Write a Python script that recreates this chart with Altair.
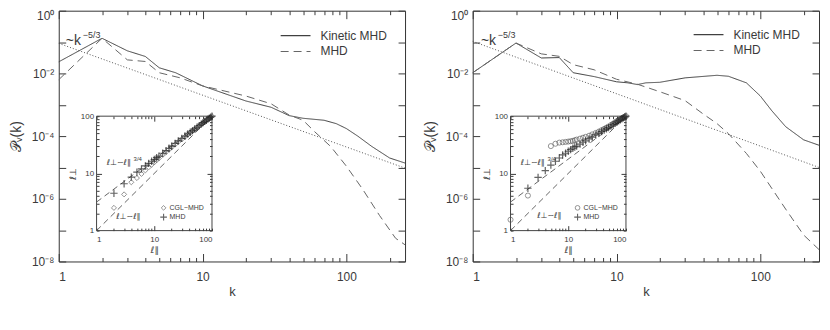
import altair as alt
import pandas as pd

W, H = 348, 252
FONT = "Liberation Sans"
SYMFONT = "DejaVu Sans"
INK = "#3a3a3a"
SER = ["Kinetic MHD", "MHD"]

# ---------------- left panel: spectra ----------------
L_SOLID_K = [1, 2, 3, 4, 5, 6.5, 10, 20, 30, 40, 50, 70, 85, 100, 120, 150, 200, 256]
L_SOLID_P = [0.0234, 0.132, 0.0525, 0.0347, 0.0151, 0.0105, 0.0040, 1.32e-3, 8.3e-4,
             4.5e-4, 3.7e-4, 3.2e-4, 2.5e-4, 1.74e-4, 1.0e-4, 4.7e-5, 2.0e-5, 1.38e-5]
L_DASH_K = [1, 2, 3, 4, 5, 7, 10, 20, 30, 40, 50, 60, 78, 100, 130, 170, 220, 256]
L_DASH_P = [0.0063, 0.132, 0.027, 0.024, 0.0105, 0.0072, 0.0040, 1.9e-3, 1.07e-3,
            4.7e-4, 3.2e-4, 1.4e-4, 4.6e-5, 1.1e-5, 2.0e-6, 2.95e-7, 5.5e-8, 3.4e-8]
L_DOT_K = [1, 256]
L_DOT_P = [0.091, 9.5e-6]

# ---------------- right panel: spectra ----------------
R_SOLID_K = [1, 2, 3, 4, 5, 7, 10, 12, 14, 16, 20, 30, 50, 60, 80, 100, 120, 150, 200, 256]
R_SOLID_P = [0.0105, 0.093, 0.031, 0.032, 0.0105, 0.0079, 0.0054, 0.0050, 0.0044, 0.0050,
             0.0052, 0.0072, 0.0087, 0.0081, 0.0050, 0.0019, 6.5e-4, 2.0e-4, 7.6e-5, 5.1e-5]
R_DASH_K = [1, 2, 3, 4, 5, 7, 10, 14, 20, 30, 40, 50, 60, 80, 100, 150, 200, 256]
R_DASH_P = [0.0105, 0.093, 0.042, 0.035, 0.019, 0.013, 0.0065, 0.0045, 0.0026, 0.00135,
            5.1e-4, 2.5e-4, 1.2e-4, 2.8e-5, 7.6e-6, 4.7e-7, 7.0e-8, 2.4e-8]
R_DOT_K = [1, 256]
R_DOT_P = [0.105, 1.0e-5]

# ---------------- insets: l_perp vs l_par ----------------
L_CGL_X = [2, 3, 4, 5, 6, 7, 8, 9, 10, 11, 12, 14, 16, 18, 20, 23, 26, 30, 34, 38, 42, 46,
           50, 55, 60, 65, 70, 75, 80, 85, 90, 95, 100]
L_CGL_Y = [2.5, 4.3, 7.0, 8.3, 9.8, 11.3, 12.8, 14.2, 15.6, 17, 18.3, 21, 23.5, 26, 28.5, 32,
           35.5, 39.5, 43.5, 47.5, 51.5, 55, 58.5, 63, 67, 71.5, 76, 80, 84, 88, 92, 96, 100]
L_MHD_X = [2, 3, 4, 5, 6, 7, 8, 9, 10, 11, 12, 14, 16, 18, 20, 23, 26, 30, 34, 38, 42, 46,
           50, 55, 60, 65, 70, 75, 80, 85, 90, 95, 100]
L_MHD_Y = [4.5, 6.6, 8.6, 10.5, 12, 13.5, 15, 16.3, 17.5, 18.8, 20, 22.5, 25, 27.5, 30, 33.5,
           37, 41, 45, 49, 52.5, 56, 60, 64, 68.5, 72.5, 77, 81, 85, 89, 92.5, 96, 100]

R_CGL_X = [1, 2, 5, 6, 7, 8, 9, 10, 11, 12, 13, 14, 16, 18, 20, 23, 26, 30, 34, 38, 42, 46,
           50, 55, 60, 65, 70, 75, 80, 85, 90, 95, 100]
R_CGL_Y = [1.55, 4.1, 30, 33, 34.5, 35, 35.5, 36, 36.5, 37, 38, 39, 40.5, 42, 43.5, 45.5, 48,
           51, 54, 57, 60, 63, 66, 70, 74, 78, 82, 85.5, 89, 92, 95, 97.5, 100]
R_MHD_X = [2, 3, 4, 5, 6, 7, 8, 9, 10, 11, 12, 13, 14, 16, 18, 20, 23, 26, 30, 34, 38, 42,
           46, 50, 55, 60, 65, 70, 75, 80, 85, 90, 95, 100]
R_MHD_Y = [5.5, 8.5, 11.2, 14, 16.3, 18.6, 21, 22.5, 24.4, 26, 27.5, 29, 30, 32.5, 35, 37, 40,
           43, 47, 50.5, 54, 57, 60, 63, 67, 71, 75, 79, 83, 86.5, 90, 93.5, 97, 100]

GUIDE_X = [1, 100, 1, 100]
GUIDE_Y = [1, 100, 3.16, 100]
GUIDE_ID = ["lin", "lin", "gs", "gs"]

XT = [1, 2, 3, 4, 5, 6, 7, 8, 9, 10, 20, 30, 40, 50, 60, 70, 80, 90, 100, 200]
YT = [1e-8, 1e-7, 1e-6, 1e-5, 1e-4, 1e-3, 1e-2, 1e-1, 1]
IT = [1, 2, 3, 4, 5, 6, 7, 8, 9, 10, 20, 30, 40, 50, 60, 70, 80, 90, 100]

MAJ_MAIN = {"condition": {"test": "datum.value == 1 || datum.value == 10 || datum.value == 100",
                          "value": 8}, "value": 4}
MAJ_IN = {"condition": {"test": "datum.value == 10", "value": 5}, "value": 2.5}

PLUS = "M-1,0L1,0M0,-1L0,1"
PAR = "ℓ∥"
PERP = "ℓ⊥"


def tick_axis(orient, offset, values, size):
    return alt.Axis(orient=orient, offset=offset, values=values, labels=False, tickSize=size,
                    tickColor=INK, tickWidth=1, domain=False, grid=False, title=None, zindex=1)


def panel(sk, sP, dk, dP, dotk, dotP, ak, aP, cx, cy, mx, my, cgl_shape, t34, t11, legpos):
    xs = alt.Scale(type="log", domain=[1, 256], nice=False)
    ys = alt.Scale(type="log", domain=[1e-8, 1], nice=False)

    ax_lab = alt.Axis(orient="bottom", values=[1, 10, 100], format="~g", tickSize=0,
                      labelPadding=10, labelFontSize=12, labelFont=FONT, labelColor=INK,
                      domain=False, grid=False, title="k", titleFont=FONT, titleFontSize=13,
                      titleFontWeight="normal", titleColor=INK, titlePadding=3)
    ay_lab = alt.Axis(orient="left", values=[1e-8, 1e-6, 1e-4, 1e-2, 1],
                      labelExpr="['10⁻⁸','','10⁻⁶','','10⁻⁴','','10⁻²','','10⁰'][round(log(datum.value)/LN10)+8]",
                      labelBaseline={"condition": {"test": "datum.value > 0.5", "value": "top"},
                                     "value": "middle"},
                      tickSize=0, labelPadding=5, labelFontSize=12, labelFont=FONT,
                      labelColor=INK, domain=False, grid=False, title="𝒫ᵥ(k)", titleFont=FONT,
                      titleFontSize=14, titleFontWeight="normal", titleColor=INK, titlePadding=8)

    lines_df = pd.DataFrame({"k": sk + dk, "P": sP + dP,
                             "series": [SER[0]] * len(sk) + [SER[1]] * len(dk)})
    leg = alt.Legend(orient="none", legendX=legpos[0], legendY=legpos[1], title=None,
                     symbolType="stroke", symbolSize=900, symbolStrokeWidth=1.1,
                     clipHeight=12, rowPadding=4, labelFont=FONT, labelFontSize=12,
                     labelColor=INK, labelOffset=9, padding=0)
    lines = alt.Chart(lines_df).mark_line(strokeWidth=1).encode(
        x=alt.X("k:Q", scale=xs, axis=ax_lab),
        y=alt.Y("P:Q", scale=ys, axis=ay_lab),
        color=alt.Color("series:N", scale=alt.Scale(domain=SER, range=["#404040", "#666666"]),
                        legend=leg),
        strokeDash=alt.StrokeDash("series:N", scale=alt.Scale(domain=SER, range=[[1, 0], [8, 5]]),
                                  legend=leg),
    )
    dotted = alt.Chart(pd.DataFrame({"k": dotk, "P": dotP})).mark_line(
        color="#555555", strokeWidth=1, strokeDash=[1, 2]).encode(
        x=alt.X("k:Q", scale=xs, axis=tick_axis("top", -H, XT, MAJ_MAIN)),
        y=alt.Y("P:Q", scale=ys, axis=tick_axis("right", -W, YT, 7)),
    )
    ann_df = pd.DataFrame({"k": [ak], "P": [aP]})
    ann1 = alt.Chart(ann_df).mark_text(text="~k", align="left", baseline="middle", font=FONT,
                                       fontSize=14, color=INK).encode(
        x=alt.X("k:Q", scale=xs, axis=tick_axis("bottom", -H, XT, MAJ_MAIN)),
        y=alt.Y("P:Q", scale=ys, axis=tick_axis("left", -W, YT, 7)),
    )
    ann2 = alt.Chart(ann_df).mark_text(text="−5/3", align="left", baseline="middle", dx=17,
                                       dy=-6, font=FONT, fontSize=9, color=INK).encode(
        x=alt.X("k:Q", scale=xs, axis=None),
        y=alt.Y("P:Q", scale=ys, axis=None),
    )
    main = alt.layer(lines, dotted, ann1, ann2).resolve_axis(x="independent", y="independent")

    # ---------- inset ----------
    xi = alt.Scale(type="log", domain=[1, 100], range=[38, 154], nice=False)
    yi = alt.Scale(type="log", domain=[1, 100], range=[221, 106], nice=False)
    axi_lab = alt.Axis(orient="bottom", offset=221 - H, values=[1, 10, 100], format="~g",
                       tickSize=0, labelPadding=5, labelFontSize=8, labelFont=FONT,
                       labelColor=INK, domain=False, grid=False, title=PAR, titleFont=SYMFONT,
                       titleFontSize=9, titleFontWeight="normal", titleColor=INK,
                       titlePadding=2, zindex=1)
    ayi_lab = alt.Axis(orient="left", offset=-38, values=[1, 10, 100], format="~g",
                       tickSize=0, labelPadding=3, labelFontSize=8, labelFont=FONT,
                       labelColor=INK, domain=False, grid=False, title=PERP, titleFont=SYMFONT,
                       titleFontSize=9, titleFontWeight="normal", titleColor=INK,
                       titlePadding=3, zindex=1)
    frame = alt.Chart(pd.DataFrame({"x": [1], "x2": [100], "y": [1], "y2": [100]})).mark_rect(
        fill="white", stroke="#444444", strokeWidth=1).encode(
        x=alt.X("x:Q", scale=xi, axis=axi_lab), x2="x2:Q",
        y=alt.Y("y:Q", scale=yi, axis=ayi_lab), y2="y2:Q",
    )
    guides = alt.Chart(pd.DataFrame({"x": GUIDE_X, "y": GUIDE_Y, "g": GUIDE_ID})).mark_line(
        color="#666666", strokeWidth=1, strokeDash=[6, 4]).encode(
        x=alt.X("x:Q", scale=xi, axis=tick_axis("top", -221, IT, MAJ_IN)),
        y=alt.Y("y:Q", scale=yi, axis=tick_axis("right", 38 - W, IT, MAJ_IN)),
        detail="g:N",
    )
    cgl = alt.Chart(pd.DataFrame({"x": cx, "y": cy})).mark_point(
        shape=cgl_shape, filled=False, size=26, color="#555555", strokeWidth=0.9).encode(
        x=alt.X("x:Q", scale=xi, axis=tick_axis("bottom", 106 - H, IT, MAJ_IN)),
        y=alt.Y("y:Q", scale=yi, axis=tick_axis("left", -154, IT, MAJ_IN)),
    )
    mhd = alt.Chart(pd.DataFrame({"x": mx, "y": my})).mark_point(
        shape=PLUS, filled=False, size=55, color="#222222", strokeWidth=1.2).encode(
        x=alt.X("x:Q", scale=xi, axis=None),
        y=alt.Y("y:Q", scale=yi, axis=None),
    )
    tx_df = pd.DataFrame({"x": [t34[0], t11[0]], "y": [t34[1], t11[1]],
                          "t": [PERP + "~" + PAR, PERP + "~" + PAR]})
    txt = alt.Chart(tx_df).mark_text(align="left", baseline="middle", font=SYMFONT, fontSize=8,
                                     color=INK).encode(
        x=alt.X("x:Q", scale=xi, axis=None), y=alt.Y("y:Q", scale=yi, axis=None), text="t:N")
    sup = alt.Chart(pd.DataFrame({"x": [t34[0]], "y": [t34[1]]})).mark_text(
        text="3/4", align="left", baseline="middle", dx=27, dy=-4, font=FONT, fontSize=6,
        color=INK).encode(x=alt.X("x:Q", scale=xi, axis=None), y=alt.Y("y:Q", scale=yi, axis=None))
    lg_cgl = alt.Chart(pd.DataFrame({"x": [14.5], "y": [2.5]})).mark_point(
        shape=cgl_shape, filled=False, size=22, color="#555555", strokeWidth=0.9).encode(
        x=alt.X("x:Q", scale=xi, axis=None), y=alt.Y("y:Q", scale=yi, axis=None))
    lg_mhd = alt.Chart(pd.DataFrame({"x": [14.5], "y": [1.72]})).mark_point(
        shape=PLUS, filled=False, size=45, color="#222222", strokeWidth=1.1).encode(
        x=alt.X("x:Q", scale=xi, axis=None), y=alt.Y("y:Q", scale=yi, axis=None))
    lg_txt = alt.Chart(pd.DataFrame({"x": [14.5, 14.5], "y": [2.5, 1.72],
                                     "t": ["CGL−MHD", "MHD"]})).mark_text(
        align="left", baseline="middle", dx=6, font=FONT, fontSize=7, color=INK).encode(
        x=alt.X("x:Q", scale=xi, axis=None), y=alt.Y("y:Q", scale=yi, axis=None), text="t:N")

    inset = alt.layer(frame, guides, cgl, mhd, txt, sup, lg_cgl, lg_mhd, lg_txt).resolve_axis(
        x="independent", y="independent")

    return alt.layer(main, inset).resolve_scale(x="independent", y="independent").properties(
        width=W, height=H)


left = panel(L_SOLID_K, L_SOLID_P, L_DASH_K, L_DASH_P, L_DOT_K, L_DOT_P, 1.12, 0.107,
             L_CGL_X, L_CGL_Y, L_MHD_X, L_MHD_Y, "diamond", (1.5, 15), (2.2, 1.7), (222, 19))
right = panel(R_SOLID_K, R_SOLID_P, R_DASH_K, R_DASH_P, R_DOT_K, R_DOT_P, 1.14, 0.11,
              R_CGL_X, R_CGL_Y, R_MHD_X, R_MHD_Y, "circle", (1.5, 15.5), (2.9, 1.8), (221, 18))

chart = alt.hconcat(left, right, spacing=14,
                    padding={"left": 0, "top": 0, "right": 0, "bottom": 0}).resolve_legend(
    color="independent", strokeDash="independent").configure_view(
    stroke="#333333", strokeWidth=1)

chart.save("out.html", embed_options={"renderer": "svg", "actions": False})
